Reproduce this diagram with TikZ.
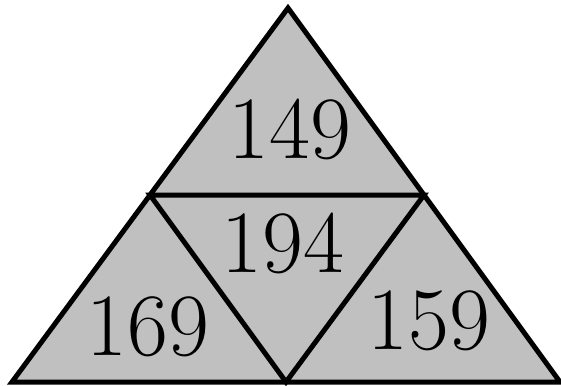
\documentclass[tikz,border=0pt]{standalone}
\usetikzlibrary{calc}

\definecolor{tilegray}{RGB}{192,192,192}

\begin{document}
\begin{tikzpicture}[x=1pt,y=-1pt]
\useasboundingbox (0,0) rectangle (561,385);
\coordinate (A) at (288,8);
\coordinate (B) at (12,382);
\coordinate (C) at (560,382);
\coordinate (AB) at ($(A)!0.5!(B)$);
\coordinate (AC) at ($(A)!0.5!(C)$);
\coordinate (BC) at ($(B)!0.5!(C)$);

\fill[tilegray] (A) -- (B) -- (C) -- cycle;
\draw[line width=5pt, line join=miter] (A) -- (B) -- (C) -- cycle;
\draw[line width=5pt, line join=miter] (AB) -- (AC) -- (BC) -- cycle;

\tikzset{num/.style={font=\fontsize{89}{89}\selectfont, inner sep=0pt}}
\node[num] (top) at (290,129) {149};
\node[num] (mid) at (283,243) {194};
\node[num] (left) at (148,327) {169};
\node[num] (right) at (429,321) {159};
\end{tikzpicture}
\end{document}
